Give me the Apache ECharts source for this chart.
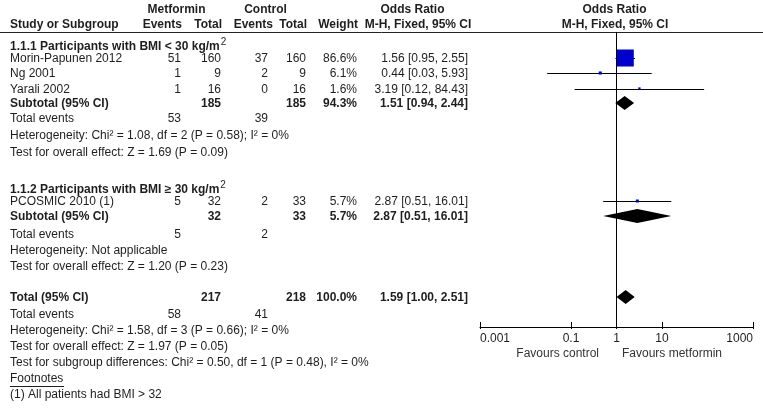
<!DOCTYPE html>
<html><head><meta charset="utf-8">
<script src="https://cdn.jsdelivr.net/npm/echarts@6/dist/echarts.min.js"></script>
<style>html,body{margin:0;padding:0;background:#fff}#c{width:763px;height:416px}</style>
</head><body><div id="c"></div>
<script>
// ---------- data ----------
const studies   = ['Morin-Papunen 2012', 'Ng 2001', 'Yarali 2002', 'PCOSMIC 2010 (1)'];
const metEvents = [51, 1, 1, 5];
const metTotal  = [160, 9, 16, 32];
const ctlEvents = [37, 2, 0, 2];
const ctlTotal  = [160, 9, 16, 33];
const weights   = [86.6, 6.1, 1.6, 5.7];
const orEst     = [1.56, 0.44, 3.19, 2.87];
const orLo      = [0.95, 0.03, 0.12, 0.51];
const orHi      = [2.55, 5.93, 84.43, 16.01];

const groupTitles   = ['1.1.1 Participants with BMI < 30 kg/m', '1.1.2 Participants with BMI \u2265 30 kg/m'];
const groupMetTotal = [185, 32];
const groupCtlTotal = [185, 33];
const groupWeight   = [94.3, 5.7];
const groupOr       = [1.51, 2.87];
const groupLo       = [0.94, 0.51];
const groupHi       = [2.44, 16.01];
const groupMetEv    = [53, 5];
const groupCtlEv    = [39, 2];
const groupHet      = ['Heterogeneity: Chi\u00b2 = 1.08, df = 2 (P = 0.58); I\u00b2 = 0%', 'Heterogeneity: Not applicable'];
const groupTest     = ['Test for overall effect: Z = 1.69 (P = 0.09)', 'Test for overall effect: Z = 1.20 (P = 0.23)'];

const totalMetTotal = 217, totalCtlTotal = 218, totalWeight = 100.0;
const totalOr = 1.59, totalLo = 1.00, totalHi = 2.51;
const totalMetEv = 58, totalCtlEv = 41;
const totalHet  = 'Heterogeneity: Chi\u00b2 = 1.58, df = 3 (P = 0.66); I\u00b2 = 0%';
const totalTest = 'Test for overall effect: Z = 1.97 (P = 0.05)';
const subgroupTest = 'Test for subgroup differences: Chi\u00b2 = 0.50, df = 1 (P = 0.48), I\u00b2 = 0%';
const footnotes = ['(1) All patients had BMI > 32'];

const axisTicks = [0.001, 0.1, 1, 10, 1000];
const favourLeft = 'Favours control', favourRight = 'Favours metformin';

// ---------- layout ----------
const FONT = '"Liberation Sans", Arial, sans-serif';
const TXT = '#1e1e1e';
const DY = 1; // text baseline tweak
const rowStudy = [58, 73, 88.5, 201];
const rowGroupTitle = [45, 188];
const rowSub = [103, 216];
const rowTE = [118, 234];
const rowHet = [135, 250];
const rowTest = [152, 266];
const rowTot = 297, rowTotTE = 314, rowTotHet = 330, rowTotTest = 346, rowDiff = 362, rowFn = 378, rowFn1 = 394;
const col = {name: 10, evM: 181, totM: 221, evC: 268, totC: 306, wt: 357, or: 468};

const f2 = v => v.toFixed(2);
const ciText = (o, l, h) => `${f2(o)} [${f2(l)}, ${f2(h)}]`;

const g = [];
function txt(text, x, y, align, bold, color) {
  g.push({
    type: 'text', x: x, y: y + DY, silent: true,
    style: {text: String(text), fill: color || TXT, font: (bold ? 'bold ' : '') + '12px ' + FONT,
            align: align || 'left', verticalAlign: 'middle'}
  });
}
// headers
txt('Metformin', 176.5, 9, 'center', true);
txt('Control', 265.5, 9, 'center', true);
txt('Odds Ratio', 412.5, 9, 'center', true);
txt('Odds Ratio', 614.5, 9, 'center', true);
txt('Study or Subgroup', 10, 24, 'left', true);
txt('Events', 182, 24, 'right', true);
txt('Total', 222, 24, 'right', true);
txt('Events', 273, 24, 'right', true);
txt('Total', 307, 24, 'right', true);
txt('Weight', 358, 24, 'right', true);
txt('M-H, Fixed, 95% CI', 418, 24, 'center', true);
txt('M-H, Fixed, 95% CI', 615, 24, 'center', true);
g.push({type: 'line', silent: true, shape: {x1: 0, y1: 32.5, x2: 763, y2: 32.5}, style: {stroke: '#222', lineWidth: 1}});

// group titles with superscript
groupTitles.forEach((t, k) => {
  g.push({type: 'text', x: 10, y: rowGroupTitle[k], silent: true,
    style: {text: '{b|' + t + '}{s|2}', align: 'left', verticalAlign: 'middle', fill: TXT,
      rich: {b: {font: 'bold 12px ' + FONT, fill: TXT, lineHeight: 16, verticalAlign: 'bottom'},
             s: {font: '10px ' + FONT, fill: TXT, lineHeight: 16, verticalAlign: 'top', padding: [0, 0, 0, 1]}}}});
});
// studies
studies.forEach((s, i) => {
  const y = rowStudy[i];
  txt(s, col.name, y);
  txt(metEvents[i], col.evM, y, 'right');
  txt(metTotal[i], col.totM, y, 'right');
  txt(ctlEvents[i], col.evC, y, 'right');
  txt(ctlTotal[i], col.totC, y, 'right');
  txt(weights[i].toFixed(1) + '%', col.wt, y, 'right');
  txt(ciText(orEst[i], orLo[i], orHi[i]), col.or, y, 'right');
});
// subgroup summaries
[0, 1].forEach(k => {
  txt('Subtotal (95% CI)', col.name, rowSub[k], 'left', true);
  txt(groupMetTotal[k], col.totM, rowSub[k], 'right', true);
  txt(groupCtlTotal[k], col.totC, rowSub[k], 'right', true);
  txt(groupWeight[k].toFixed(1) + '%', col.wt, rowSub[k], 'right', true);
  txt(ciText(groupOr[k], groupLo[k], groupHi[k]), col.or, rowSub[k], 'right', true);
  txt('Total events', col.name, rowTE[k]);
  txt(groupMetEv[k], col.evM, rowTE[k], 'right');
  txt(groupCtlEv[k], col.evC, rowTE[k], 'right');
  txt(groupHet[k], col.name, rowHet[k]);
  txt(groupTest[k], col.name, rowTest[k]);
});
// overall
txt('Total (95% CI)', col.name, rowTot, 'left', true);
txt(totalMetTotal, col.totM, rowTot, 'right', true);
txt(totalCtlTotal, col.totC, rowTot, 'right', true);
txt(totalWeight.toFixed(1) + '%', col.wt, rowTot, 'right', true);
txt(ciText(totalOr, totalLo, totalHi), col.or, rowTot, 'right', true);
txt('Total events', col.name, rowTotTE);
txt(totalMetEv, col.evM, rowTotTE, 'right');
txt(totalCtlEv, col.evC, rowTotTE, 'right');
txt(totalHet, col.name, rowTotHet);
txt(totalTest, col.name, rowTotTest);
txt(subgroupTest, col.name, rowDiff);
txt('Footnotes', col.name, rowFn);
g.push({type: 'line', silent: true, shape: {x1: 10, y1: 386.5, x2: 64, y2: 386.5}, style: {stroke: TXT, lineWidth: 1}});
footnotes.forEach((f, i) => txt(f, col.name, rowFn1 + i * 16));
txt(favourLeft, 599, 353, 'right', false, '#333');
txt(favourRight, 622, 353, 'left', false, '#333');

// ---------- chart ----------
const ciData = studies.map((s, i) => [orLo[i], orHi[i], rowStudy[i]]);
const sqData = studies.map((s, i) => [orEst[i], rowStudy[i], weights[i]]);
const maxW = Math.max.apply(null, weights);
const diaData = [
  [groupLo[0], groupOr[0], groupHi[0], rowSub[0]],
  [groupLo[1], groupOr[1], groupHi[1], rowSub[1]],
  [totalLo, totalOr, totalHi, rowTot]
];
const fmtTick = v => String(+(+v).toPrecision(6));

const chart = echarts.init(document.getElementById('c'), null, {renderer: 'canvas'});
chart.setOption({
  animation: false,
  backgroundColor: '#fff',
  grid: {left: 480, right: 10, top: 32, bottom: 89, containLabel: false, outerBoundsMode: 'none'},
  xAxis: [{
    type: 'log', logBase: 10, min: 0.001, max: 1000, position: 'bottom',
    axisLine: {show: true, lineStyle: {color: '#000', width: 1}},
    axisTick: {show: true, length: 2, customValues: axisTicks, lineStyle: {color: '#000', width: 1}},
    axisLabel: {customValues: axisTicks, formatter: fmtTick, color: TXT, fontFamily: FONT, fontSize: 12, margin: 6,
                alignMinLabel: 'left', alignMaxLabel: 'right', showMinLabel: true, showMaxLabel: true, hideOverlap: false},
    splitLine: {show: false}
  }, {
    type: 'log', logBase: 10, min: 0.001, max: 1000, position: 'bottom',
    axisLine: {show: false},
    axisTick: {show: true, inside: true, length: 5, customValues: axisTicks, lineStyle: {color: '#000', width: 1}},
    axisLabel: {show: false},
    splitLine: {show: false}
  }],
  yAxis: {type: 'value', min: 32, max: 327, inverse: true, show: false},
  graphic: g,
  series: [{
    type: 'custom', name: 'ci', z: 2,
    data: ciData,
    encode: {x: [0, 1], y: 2},
    renderItem: function (params, api) {
      const y = api.value(2);
      const a = api.coord([api.value(0), y]);
      const b = api.coord([api.value(1), y]);
      const yy = Math.round(a[1]) + 0.5;
      return {type: 'line', shape: {x1: a[0], y1: yy, x2: b[0], y2: yy}, style: {stroke: '#000', lineWidth: 1}};
    },
    markLine: {
      silent: true, symbol: ['none', 'none'], label: {show: false},
      lineStyle: {color: '#000', type: 'solid', width: 1},
      data: [{xAxis: 1}]
    }
  }, {
    type: 'scatter', name: 'study', z: 3,
    data: sqData,
    symbol: 'rect',
    symbolSize: v => 2 + 15 * v[2] / maxW,
    itemStyle: {color: '#0000cc', opacity: 1}
  }, {
    type: 'custom', name: 'pooled', z: 4,
    data: diaData,
    encode: {x: [0, 1, 2], y: 3},
    renderItem: function (params, api) {
      const y = api.value(3);
      const l = api.coord([api.value(0), y]);
      const c = api.coord([api.value(1), y]);
      const r = api.coord([api.value(2), y]);
      const h = 7;
      return {type: 'polygon', shape: {points: [[l[0], l[1]], [c[0], c[1] - h], [r[0], r[1]], [c[0], c[1] + h]]}, style: {fill: '#000'}};
    }
  }]
});
</script>
</body></html>
